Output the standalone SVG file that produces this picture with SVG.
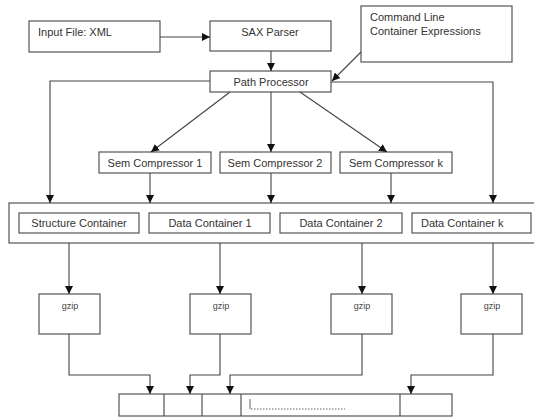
<svg xmlns="http://www.w3.org/2000/svg" width="534" height="418" viewBox="0 0 534 418">
<defs>
<marker id="ah" viewBox="0 0 10 10" refX="10" refY="5" markerWidth="8" markerHeight="8" markerUnits="userSpaceOnUse" orient="auto">
<path d="M0,0 L10,5 L0,10 z" fill="#111"/>
</marker>
<style>
.box{fill:#fff;stroke:#555;stroke-width:1.2}
.t{font-family:"Liberation Sans",Arial,sans-serif;font-size:11px;fill:#333}
.c{text-anchor:middle}
.g{font-family:"Liberation Sans",Arial,sans-serif;font-size:9px;fill:#444;text-anchor:middle}
.ln{fill:none;stroke:#444;stroke-width:1.1}
.ar{fill:none;stroke:#444;stroke-width:1.1;marker-end:url(#ah)}
</style>
</defs>
<rect width="534" height="418" fill="#fff"/>

<g id="outer-container"><rect class="box" x="9" y="203" width="531" height="40"/></g>

<g id="input"><rect class="box" x="29" y="21" width="131" height="31"/><text class="t" x="38" y="36">Input File: XML</text></g>
<g id="sax"><rect class="box" x="210" y="21" width="121" height="30"/><text class="t c" x="270" y="36">SAX Parser</text></g>
<g id="cmd"><rect class="box" x="361" y="6" width="151" height="56"/><text class="t" x="370" y="21">Command Line</text><text class="t" x="370" y="35">Container Expressions</text></g>
<g id="path"><rect class="box" x="210" y="71" width="121" height="21"/><text class="t c" x="271" y="86">Path Processor</text></g>
<g id="sem1"><rect class="box" x="99" y="152" width="112" height="21"/><text class="t c" x="155" y="167">Sem Compressor 1</text></g>
<g id="sem2"><rect class="box" x="220" y="152" width="111" height="21"/><text class="t c" x="275" y="167">Sem Compressor 2</text></g>
<g id="semk"><rect class="box" x="340" y="152" width="112" height="21"/><text class="t c" x="396" y="167">Sem Compressor k</text></g>
<g id="structure"><rect class="box" x="19" y="213" width="120" height="20"/><text class="t c" x="79" y="227">Structure Container</text></g>
<g id="data1"><rect class="box" x="149" y="213" width="121" height="20"/><text class="t c" x="210" y="227">Data Container 1</text></g>
<g id="data2"><rect class="box" x="280" y="213" width="122" height="20"/><text class="t c" x="341" y="227">Data Container 2</text></g>
<g id="datak"><rect class="box" x="412" y="213" width="119" height="20"/><text class="t" x="421" y="227">Data Container k</text></g>
<g id="gzip1"><rect class="box" x="39" y="294" width="61" height="40"/><text class="g" x="70" y="309">gzip</text></g>
<g id="gzip2"><rect class="box" x="190" y="294" width="61" height="40"/><text class="g" x="221" y="309">gzip</text></g>
<g id="gzip3"><rect class="box" x="331" y="294" width="61" height="40"/><text class="g" x="362" y="309">gzip</text></g>
<g id="gzip4"><rect class="box" x="461" y="294" width="61" height="40"/><text class="g" x="492" y="309">gzip</text></g>
<g id="output">
<rect class="box" x="119" y="394" width="333" height="22"/>
<path class="ln" d="M164,394 V416 M202,394 V416 M241,394 V416 M400,394 V416"/>
<path d="M250,399 V409" stroke="#666" stroke-width="1" fill="none"/>
<path d="M251,409 H345" stroke="#666" stroke-width="1" stroke-dasharray="1.5,1.5" fill="none"/>
</g>

<g id="connectors">
<path class="ar" d="M160,37 H210"/>
<path class="ar" d="M271,51 V71"/>
<path class="ar" d="M361,52 L332,81"/>
<path class="ar" d="M210,81 H50 V203"/>
<path class="ar" d="M331,82 H493 V203"/>
<path class="ar" d="M230,92 L151,152"/>
<path class="ar" d="M271,92 V152"/>
<path class="ar" d="M300,92 L387,152"/>
<path class="ar" d="M150,173 V203"/>
<path class="ar" d="M271,173 V203"/>
<path class="ar" d="M391,173 V203"/>
<path class="ar" d="M69,243 V294"/>
<path class="ar" d="M220,243 V294"/>
<path class="ar" d="M362,243 V294"/>
<path class="ar" d="M493,243 V294"/>
<path class="ar" d="M69,334 V375 H150 V394"/>
<path class="ar" d="M220,334 V375 H190 V394"/>
<path class="ar" d="M362,334 V375 H230 V394"/>
<path class="ar" d="M493,334 V375 H411 V394"/>
</g>
</svg>
